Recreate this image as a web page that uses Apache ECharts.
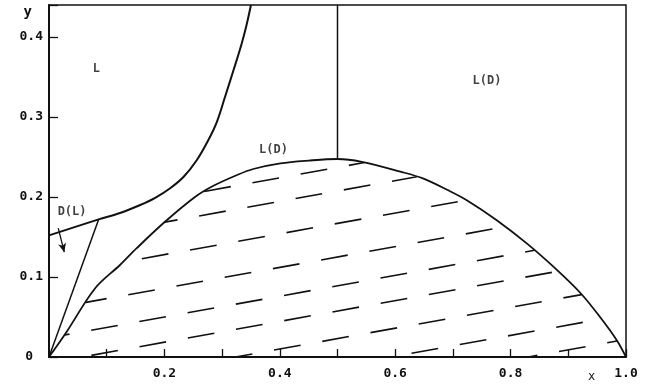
<!DOCTYPE html>
<html>
<head>
<meta charset="utf-8">
<script src="https://cdn.jsdelivr.net/npm/echarts@6/dist/echarts.min.js"></script>
<style>
  html, body { margin: 0; padding: 0; background: #fff; }
  #chart { width: 662px; height: 385px; }
</style>
</head>
<body>
<div id="chart"></div>
<script>
// upper boundary of the L region
const upperX = [0, 0.086, 0.123, 0.158, 0.184, 0.21, 0.233, 0.256, 0.276, 0.291, 0.305, 0.32, 0.334, 0.343, 0.35];
const upperY = [0.152, 0.172, 0.18, 0.19, 0.199, 0.211, 0.225, 0.246, 0.271, 0.294, 0.325, 0.359, 0.392, 0.417, 0.44];

// two-phase dome
const domeX = [0, 0.031, 0.08, 0.123, 0.152, 0.201, 0.253, 0.285, 0.326, 0.354, 0.401, 0.45, 0.5, 0.542, 0.609, 0.649, 0.69, 0.724, 0.776, 0.828, 0.877, 0.921, 0.955, 0.984, 1.0];
const domeY = [0, 0.032, 0.086, 0.115, 0.136, 0.169, 0.2, 0.214, 0.2275, 0.235, 0.242, 0.2455, 0.2475, 0.244, 0.2317, 0.223, 0.209, 0.196, 0.171, 0.142, 0.111, 0.08, 0.05, 0.021, 0];

// D(L) line and the vertical divider
const dlX = [0, 0.086];
const dlY = [0, 0.172];
const divX = [0.5, 0.5];
const divY = [0.2475, 0.44];

// hatch lines y = b + slope * x, clipped to the dome
const hatchSlope = 0.13;
const hatchB = [0.172, 0.1425, 0.102, 0.06, 0.024, -0.0075, -0.042, -0.077, -0.108];
const hatchPhase = [0, 14, 30, 6, 22, 40, 10, 28, 18];

// region labels
const regionLabels = ['L', 'L(D)', 'L(D)', 'D(L)'];
const regionX = [0.082, 0.389, 0.759, 0.040];
const regionY = [0.36, 0.259, 0.345, 0.181];

const arrowFrom = [0.016, 0.161];
const arrowTo = [0.0265, 0.131];

const zip = (xs, ys) => xs.map((x, i) => [x, ys[i]]);

const domeAt = x => {
    for (let i = 1; i < domeX.length; i++) {
        if (x <= domeX[i]) {
            const t = (x - domeX[i - 1]) / (domeX[i] - domeX[i - 1]);
            return domeY[i - 1] + t * (domeY[i] - domeY[i - 1]);
        }
    }
    return 0;
};

const hatchSeries = hatchB.map((b, k) => {
    let x0 = null, x1 = null;
    for (let x = 0; x <= 1; x += 0.0005) {
        const y = b + hatchSlope * x;
        if (y >= 0 && y <= domeAt(x)) {
            if (x0 === null) x0 = x;
            x1 = x;
        }
    }
    return {
        type: 'line',
        data: [[x0, b + hatchSlope * x0], [x1, b + hatchSlope * x1]],
        symbol: 'none',
        silent: true,
        lineStyle: { color: '#111', width: 1.6, type: [27, 22], dashOffset: hatchPhase[k] }
    };
});

const font = 'DejaVu Sans Mono';
const chart = echarts.init(document.getElementById('chart'));

chart.setOption({
    animation: false,
    backgroundColor: '#fff',
    grid: { left: 49, right: 36, top: 5, bottom: 28, show: true, borderColor: '#111', borderWidth: 1.5 },
    xAxis: {
        type: 'value', min: 0, max: 1, interval: 0.1,
        name: 'x', nameLocation: 'end', nameGap: -38,
        nameTextStyle: { color: '#111', fontFamily: font, fontSize: 12, verticalAlign: 'top', padding: [14, 0, 0, 0] },
        axisLine: { lineStyle: { color: '#111', width: 2 } },
        axisTick: { inside: true, length: 8, lineStyle: { color: '#111', width: 1.3 } },
        axisLabel: {
            margin: 10, color: '#111', fontFamily: font, fontWeight: 'bold', fontSize: 13,
            formatter: v => (v > 0.01 && Math.round(v * 10) % 2 === 0) ? v.toFixed(1) : ''
        },
        splitLine: { show: false }
    },
    yAxis: {
        type: 'value', min: 0, max: 0.44, interval: 0.1,
        name: 'y', nameLocation: 'end', nameGap: -7,
        nameTextStyle: { color: '#111', fontFamily: font, fontWeight: 'bold', fontSize: 14, align: 'right', verticalAlign: 'middle', padding: [0, 17, 0, 0] },
        axisLine: { lineStyle: { color: '#111', width: 2 } },
        axisTick: { inside: true, length: 9, lineStyle: { color: '#111', width: 1.3 } },
        axisLabel: {
            margin: 6, color: '#111', fontFamily: font, fontWeight: 'bold', fontSize: 13,
            formatter: v => v > 0.41 ? '' : (v === 0 ? '{z|0}' : v.toFixed(1)),
            rich: { z: { fontFamily: font, fontWeight: 'bold', fontSize: 13, color: '#111', padding: [0, 10, 0, 0] } }
        },
        splitLine: { show: false }
    },
    series: [
        {
            type: 'line', data: zip(upperX, upperY), symbol: 'none', smooth: 0.35,
            lineStyle: { color: '#111', width: 2 }
        },
        {
            type: 'line', data: zip(domeX, domeY), symbol: 'none', smooth: 0.35,
            lineStyle: { color: '#111', width: 1.8 }
        },
        {
            type: 'line', data: zip(dlX, dlY), symbol: 'none',
            lineStyle: { color: '#111', width: 1.5 }
        },
        {
            type: 'line', data: zip(divX, divY), symbol: 'none',
            lineStyle: { color: '#111', width: 1.5 }
        },
        ...hatchSeries,
        {
            type: 'scatter', symbolSize: 0,
            data: regionLabels.map((t, i) => ({ value: [regionX[i], regionY[i]], label: { formatter: t } })),
            label: { show: true, position: 'inside', color: '#111', fontFamily: font, fontWeight: 'bold', fontSize: 12 },
            markLine: {
                silent: true, symbol: ['none', 'arrow'], symbolSize: [6, 9],
                label: { show: false },
                lineStyle: { color: '#111', width: 1.3, type: 'solid' },
                data: [[{ coord: arrowFrom }, { coord: arrowTo }]]
            }
        }
    ]
});
</script>
</body>
</html>
